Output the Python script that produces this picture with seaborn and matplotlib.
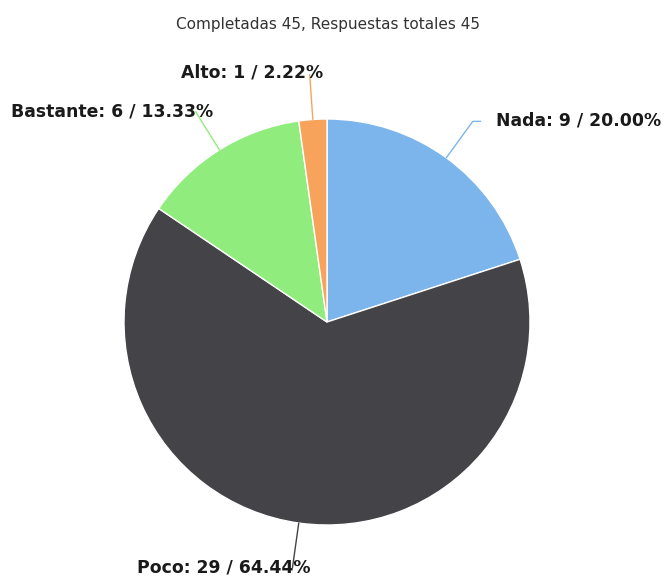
import matplotlib
matplotlib.use("Agg")
import matplotlib.pyplot as plt
import numpy as np
import seaborn as sns

sns.set_theme(style="white")
plt.rcParams["font.family"] = ["DejaVu Sans"]

# ---------------------------------------------------------------------------
# Data
# ---------------------------------------------------------------------------
categories = ["Nada", "Poco", "Bastante", "Alto"]
counts = [9, 29, 6, 1]
total_completed = 45
total_responses = 45
colors = ["#7cb5ec", "#434348", "#90ed7d", "#f7a35c"]

TEXT_COLOR = "#333333"

# pixel-style canvas
W, H = 667, 579
CX, CY, R = 327, H - 322, 203

fig = plt.figure(figsize=(W / 100, H / 100), dpi=100)
ax = fig.add_axes([0, 0, 1, 1])
ax.set_xlim(0, W)
ax.set_ylim(0, H)
ax.set_aspect("equal")
ax.axis("off")

wedges, _ = ax.pie(
    counts,
    colors=colors,
    startangle=90,
    counterclock=False,
    center=(CX, CY),
    radius=R,
    wedgeprops=dict(edgecolor="white", linewidth=1),
)
ax.set_xlim(0, W)
ax.set_ylim(0, H)

total = sum(counts)
# per-label offsets of the text from the connector elbow (layout only)
label_shift = [(23, 1), (18, 0), (18, 0), (13, 2)]
for w, cat, n, (dx, dy) in zip(wedges, categories, counts, label_shift):
    ang = np.deg2rad((w.theta1 + w.theta2) / 2)
    ex, ey = CX + R * np.cos(ang), CY + R * np.sin(ang)
    kx, ky = CX + (R + 45) * np.cos(ang), CY + (R + 45) * np.sin(ang)
    right = np.cos(ang) > 0
    pts_x, pts_y = [ex, kx], [ey, ky]
    if right:
        pts_x.append(kx + 8)
        pts_y.append(ky)
    ax.plot(pts_x, pts_y, color=w.get_facecolor(), linewidth=1, zorder=1)
    ax.text(
        kx + dx,
        ky + dy,
        f"{cat}: {n} / {n / total * 100:.2f}%",
        ha="left" if right else "right",
        va="center",
        fontsize=12.4,
        fontweight="bold",
        color="#1a1a1a",
    )

ax.text(
    W / 2 - 6,
    H - 25,
    f"Completadas {total_completed}, Respuestas totales {total_responses}",
    ha="center",
    va="center",
    fontsize=11,
    color=TEXT_COLOR,
)

fig.savefig("out.png", dpi=100)
